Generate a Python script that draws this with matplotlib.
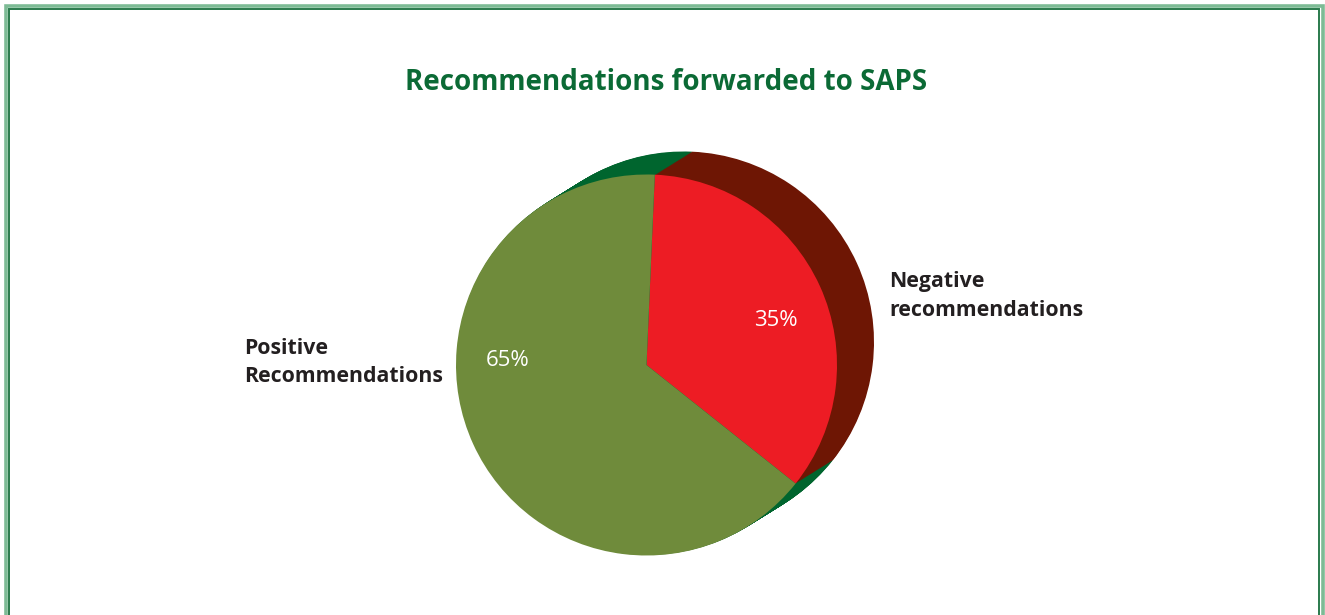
import matplotlib
matplotlib.use("Agg")
import matplotlib.pyplot as plt
from matplotlib.patches import Rectangle

# Data
categories = ["Negative\nrecommendations", "Positive\nRecommendations"]
values = [35, 65]
title = "Recommendations forwarded to SAPS"

top_colors = ["#ed1c24", "#6f8b3b"]
side_colors = ["#6e1604", "#00652e"]

W, H = 1325, 615
fig = plt.figure(figsize=(W / 100, H / 100), dpi=100)
ax = fig.add_axes([0, 0, 1, 1])
ax.set_xlim(0, W)
ax.set_ylim(0, H)
ax.axis("off")

cx, cy, r = 646.5, 250, 190.5
ddx, ddy = 37, 23
start = 87.5
N = 40

# Depth (extruded side)
for k in range(N, 0, -1):
    f = k / N
    ax.pie(values, colors=side_colors, startangle=start, counterclock=False,
           center=(cx + ddx * f, cy + ddy * f), radius=r,
           wedgeprops=dict(linewidth=0, antialiased=True), frame=True)

# Top face
wedges, texts, autotexts = ax.pie(values, colors=top_colors, startangle=start,
                                  counterclock=False, center=(cx, cy), radius=r,
                                  autopct=lambda p: f"{p:.0f}%",
                                  textprops=dict(color="white", fontsize=16, family="Open Sans"),
                                  wedgeprops=dict(linewidth=0), frame=True)
autotexts[0].set_position((776, 294))
autotexts[1].set_position((508, 255))
for t in autotexts:
    t.set_ha("center"); t.set_va("center")

ax.set_xlim(0, W)
ax.set_ylim(0, H)
ax.set_aspect("auto")
ax.axis("off")

lab_kw = dict(fontsize=15.3, fontweight="bold", color="#231f20", family="Open Sans",
              linespacing=1.5, va="center", ha="left")
ax.text(889, 615 - 296, categories[0], **lab_kw)
ax.text(244, 615 - 362.5, categories[1], **lab_kw)

ax.text(666, 615 - 83, title, fontsize=20, fontweight="bold", color="#0b6a35",
        family="Open Sans", ha="center", va="center")

# Frame border
light, dark = "#7dbb95", "#2a7a4c"
fig.patches.append(Rectangle((6 / W, -0.1), (1322.5 - 6) / W, (H - 5.5) / H + 0.1,
                             transform=fig.transFigure, fill=False, edgecolor=light,
                             linewidth=2.6, figure=fig))
fig.patches.append(Rectangle((9.3 / W, -0.1), (1319.3 - 9.3) / W, (H - 9) / H + 0.1,
                             transform=fig.transFigure, fill=False, edgecolor=dark,
                             linewidth=1.4, figure=fig))

fig.savefig("out.png", dpi=100, facecolor="white")
